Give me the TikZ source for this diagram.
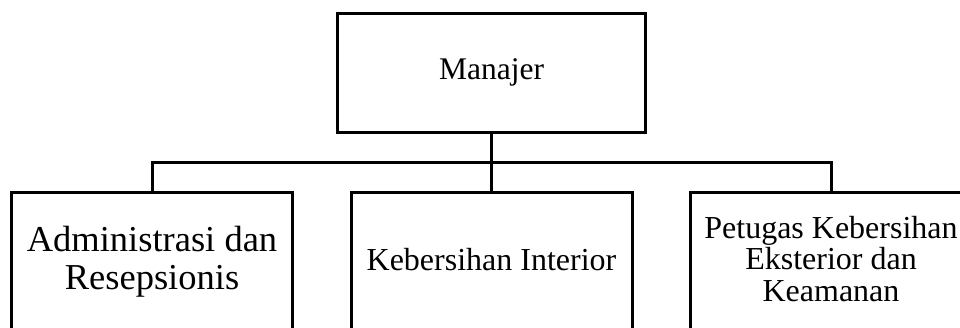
\documentclass[tikz,border=0pt]{standalone}
\usepackage{fontspec}
\setmainfont{Liberation Serif}
\begin{document}
\begin{tikzpicture}[x=1pt,y=-1pt,
  orgline/.style={line width=3pt},
  orgbox/.style={draw,line width=3pt,rectangle,inner sep=0pt,anchor=north,
    minimum width=281pt,minimum height=150pt},
  orgtext/.style={inner sep=0pt,align=center}]
  \useasboundingbox (0,0) rectangle (960,327);
  \fill[white] (0,0) rectangle (960,327);
  \clip (0,0) rectangle (960,327);

  % head of the organisation
  \node[draw,line width=3pt,inner sep=0pt,minimum width=308pt,minimum height=119pt,
        font=\fontsize{31.5}{32}\selectfont] (mgr) at (491.5,72.5) {Manajer};

  % unit boxes (they run past the lower edge)
  \node[orgbox] (adm) at (152,191) {};
  \node[orgbox] (int) at (491.5,191) {};
  \node[orgbox] (ext) at (831,191) {};

  % unit names
  \node[orgtext,font=\fontsize{36.5}{38}\selectfont] (admtext) at (152,261.5)
    {Administrasi dan\\Resepsionis};
  \node[orgtext,font=\fontsize{32}{32}\selectfont] (inttext) at (491.5,259.5)
    {Kebersihan Interior};
  \node[orgtext,font=\fontsize{32}{31.5}\selectfont] (exttext) at (831,259)
    {Petugas Kebersihan\\Eksterior dan\\Keamanan};

  % connectors
  \coordinate (bus) at (491.5,162);
  \draw[orgline] (mgr.south) -- (int.north);
  \draw[orgline] (adm.north) -- (adm.north |- bus) -- (ext.north |- bus) -- (ext.north);
\end{tikzpicture}
\end{document}
